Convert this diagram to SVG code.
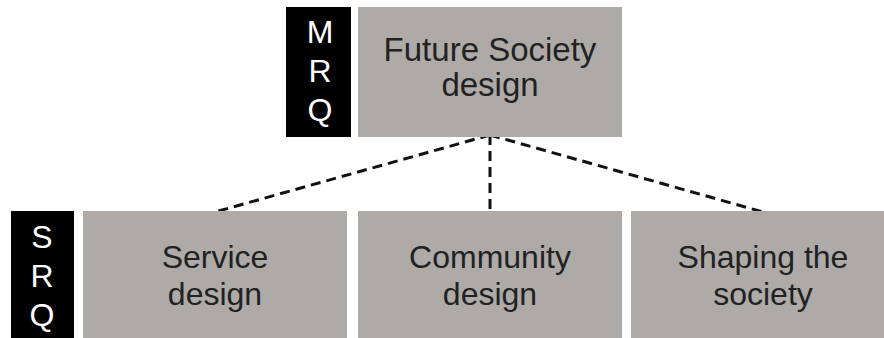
<svg xmlns="http://www.w3.org/2000/svg" width="884" height="338" viewBox="0 0 884 338">
<style>
.box{fill:#aeaaa8}
.tag{fill:#000}
.t{font-family:"Liberation Sans",Arial,sans-serif;fill:#222;text-anchor:middle}
.w{font-family:"Liberation Sans",Arial,sans-serif;fill:#fff;text-anchor:middle;font-size:32px}
.c{fill:none;stroke:#111;stroke-width:3;stroke-dasharray:10 6}
</style>
<rect width="884" height="338" fill="#fff"/>
<g id="connectors">
<line class="c" x1="490" y1="135" x2="215" y2="212"/>
<line class="c" x1="490" y1="135" x2="490" y2="212"/>
<line class="c" x1="490" y1="135" x2="763" y2="212"/>
</g>
<g id="mrq">
<rect class="tag" x="286" y="7" width="65" height="130"/>
<text class="w" x="320" y="43">M</text>
<text class="w" x="320" y="82">R</text>
<text class="w" x="320" y="121">Q</text>
</g>
<g id="future">
<rect class="box" x="358" y="7" width="264" height="130"/>
<text class="t" x="490" y="61" font-size="33">Future Society</text>
<text class="t" x="490" y="96" font-size="33">design</text>
</g>
<g id="srq">
<rect class="tag" x="11" y="211" width="63" height="130"/>
<text class="w" x="42" y="248">S</text>
<text class="w" x="42" y="287">R</text>
<text class="w" x="42" y="326">Q</text>
</g>
<g id="service">
<rect class="box" x="83" y="211" width="264" height="130"/>
<text class="t" x="215" y="268" font-size="32">Service</text>
<text class="t" x="215" y="305" font-size="32">design</text>
</g>
<g id="community">
<rect class="box" x="358" y="211" width="264" height="130"/>
<text class="t" x="490" y="268" font-size="32">Community</text>
<text class="t" x="490" y="305" font-size="32">design</text>
</g>
<g id="shaping">
<rect class="box" x="631" y="211" width="264" height="130"/>
<text class="t" x="763" y="268" font-size="32">Shaping the</text>
<text class="t" x="763" y="305" font-size="32">society</text>
</g>
</svg>
